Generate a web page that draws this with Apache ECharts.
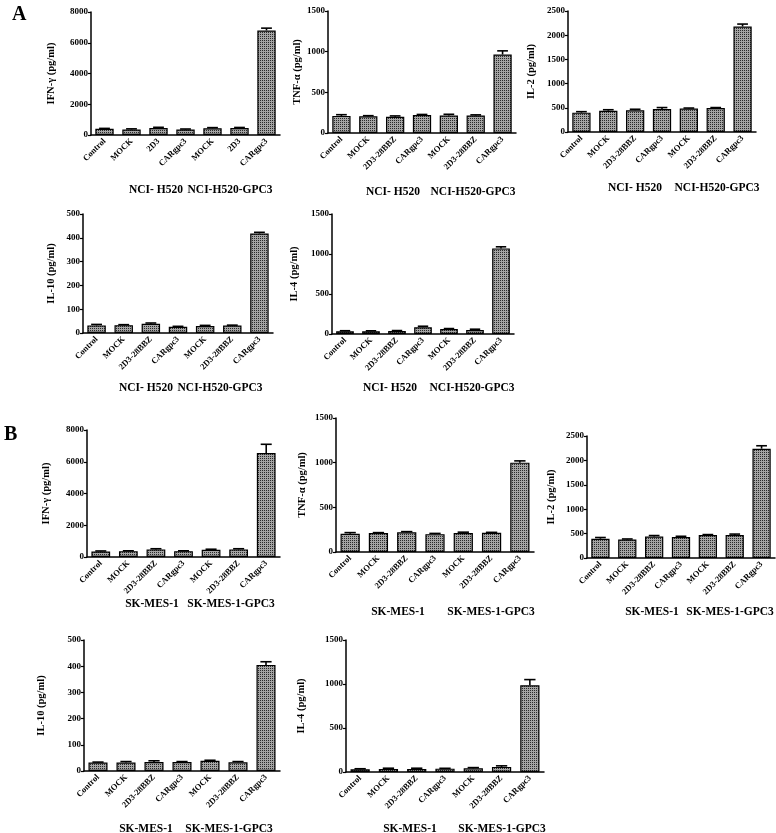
<!DOCTYPE html>
<html>
<head>
<meta charset="utf-8">
<script src="https://cdn.jsdelivr.net/npm/echarts@6/dist/echarts.min.js"></script>
<style>
  html, body { margin: 0; padding: 0; background: #fff; }
  #chart { width: 776px; height: 833px; }
</style>
</head>
<body>
<div id="chart"></div>
<script>
// 类别
const catsShort = ['Control', 'MOCK', '2D3', 'CARgpc3', 'MOCK', '2D3', 'CARgpc3'];
const catsFull = ['Control', 'MOCK', '2D3-28BBZ', 'CARgpc3', 'MOCK', '2D3-28BBZ', 'CARgpc3'];
const groupsA = ['NCI- H520', 'NCI-H520-GPC3'];
const groupsB = ['SK-MES-1', 'SK-MES-1-GPC3'];

// A: NCI-H520
const ifnA = [400, 360, 460, 360, 440, 460, 6800];
const ifnAErr = [30, 40, 40, 30, 40, 30, 150];
const tnfA = [210, 205, 200, 220, 215, 215, 965];
const tnfAErr = [15, 8, 10, 8, 15, 8, 45];
const il2A = [400, 440, 450, 475, 485, 495, 2180];
const il2AErr = [20, 20, 20, 30, 10, 10, 50];
const il10A = [32, 33, 39, 26, 29, 31, 418];
const il10AErr = [4, 2, 3, 2, 3, 2, 5];
const il4A = [35, 35, 38, 85, 62, 50, 1070];
const il4AErr = [6, 5, 5, 12, 6, 10, 20];

// B: SK-MES-1
const ifnB = [350, 370, 480, 370, 460, 480, 6550];
const ifnBErr = [30, 20, 40, 20, 30, 40, 550];
const tnfB = [205, 212, 220, 200, 212, 215, 1000];
const tnfBErr = [12, 5, 8, 8, 10, 5, 20];
const il2B = [395, 380, 440, 430, 470, 470, 2240];
const il2BErr = [25, 10, 20, 15, 10, 20, 60];
const il10B = [32, 32, 34, 34, 39, 33, 405];
const il10BErr = [2, 4, 5, 2, 2, 3, 12];
const il4B = [32, 35, 35, 38, 42, 58, 985];
const il4BErr = [5, 8, 8, 4, 8, 12, 65];

// 面板布局
const panels = [
  { grid: { left: 91, top: 12, width: 189, height: 123 }, cats: catsShort, vals: ifnA, errs: ifnAErr, max: 8000, step: 2000, name: 'IFN-γ (pg/ml)', gap: 34, groups: groupsA, gx: [156, 230], gy: 190 },
  { grid: { left: 328, top: 11, width: 188, height: 122 }, cats: catsFull, vals: tnfA, errs: tnfAErr, max: 1500, step: 500, name: 'TNF-α (pg/ml)', gap: 21, groups: groupsA, gx: [393, 473], gy: 192 },
  { grid: { left: 568, top: 11, width: 188, height: 121 }, cats: catsFull, vals: il2A, errs: il2AErr, max: 2500, step: 500, name: 'IL-2 (pg/ml)', gap: 31, groups: groupsA, gx: [635, 717], gy: 188 },
  { grid: { left: 83, top: 214, width: 190, height: 119 }, cats: catsFull, vals: il10A, errs: il10AErr, max: 500, step: 100, name: 'IL-10 (pg/ml)', gap: 26, groups: groupsA, gx: [146, 220], gy: 388 },
  { grid: { left: 332, top: 214, width: 182, height: 120 }, cats: catsFull, vals: il4A, errs: il4AErr, max: 1500, step: 500, name: 'IL-4 (pg/ml)', gap: 32, groups: groupsA, gx: [390, 472], gy: 388 },
  { grid: { left: 87, top: 430, width: 193, height: 127 }, cats: catsFull, vals: ifnB, errs: ifnBErr, max: 8000, step: 2000, name: 'IFN-γ (pg/ml)', gap: 35, groups: groupsB, gx: [152, 231], gy: 604 },
  { grid: { left: 336, top: 418, width: 198, height: 134 }, cats: catsFull, vals: tnfB, errs: tnfBErr, max: 1500, step: 500, name: 'TNF-α (pg/ml)', gap: 28, groups: groupsB, gx: [398, 491], gy: 612 },
  { grid: { left: 587, top: 436, width: 188, height: 122 }, cats: catsFull, vals: il2B, errs: il2BErr, max: 2500, step: 500, name: 'IL-2 (pg/ml)', gap: 30, groups: groupsB, gx: [652, 730], gy: 612 },
  { grid: { left: 84, top: 640, width: 196, height: 131 }, cats: catsFull, vals: il10B, errs: il10BErr, max: 500, step: 100, name: 'IL-10 (pg/ml)', gap: 37, groups: groupsB, gx: [146, 229], gy: 829 },
  { grid: { left: 346, top: 640, width: 198, height: 132 }, cats: catsFull, vals: il4B, errs: il4BErr, max: 1500, step: 500, name: 'IL-4 (pg/ml)', gap: 39, groups: groupsB, gx: [410, 502], gy: 829 }
];

const FONT = '"Liberation Serif", "Times New Roman", serif';

// 网点填充
const pat = document.createElement('canvas');
pat.width = 2;
pat.height = 2;
const pctx = pat.getContext('2d');
pctx.fillStyle = '#a4a4a4';
pctx.fillRect(0, 0, 2, 2);
pctx.fillStyle = '#2a2a2a';
pctx.fillRect(0, 0, 1, 1);

function errorBar(params, api) {
  const v = api.value(1);
  const e = api.value(2);
  const p0 = api.coord([api.value(0), v]);
  const p1 = api.coord([api.value(0), v + e]);
  const hw = api.size([1, 0])[0] * 0.2;
  const st = { stroke: '#000', lineWidth: 1.6 };
  return {
    type: 'group',
    children: [
      { type: 'line', shape: { x1: p0[0], y1: p0[1], x2: p1[0], y2: p1[1] }, style: st },
      { type: 'line', shape: { x1: p1[0] - hw, y1: p1[1], x2: p1[0] + hw, y2: p1[1] }, style: st }
    ]
  };
}

const grid = [], xAxis = [], yAxis = [], series = [], graphic = [];
panels.forEach((p, i) => {
  grid.push(p.grid);
  xAxis.push({
    type: 'category', gridIndex: i, data: p.cats,
    axisLine: { lineStyle: { color: '#000', width: 1.5 } },
    axisTick: { alignWithLabel: true, length: 3, lineStyle: { color: '#000', width: 1.2 } },
    axisLabel: { rotate: 45, interval: 0, margin: 5, color: '#000', fontFamily: FONT, fontWeight: 'bold', fontSize: 8.5 }
  });
  yAxis.push({
    type: 'value', gridIndex: i, min: 0, max: p.max, interval: p.step,
    name: p.name, nameLocation: 'middle', nameRotate: 90, nameGap: p.gap,
    nameTextStyle: { color: '#000', fontFamily: FONT, fontWeight: 'bold', fontSize: 10.5 },
    axisLine: { show: true, lineStyle: { color: '#000', width: 1.5 } },
    axisTick: { show: true, length: 3, lineStyle: { color: '#000', width: 1.2 } },
    axisLabel: { margin: 3, color: '#000', fontFamily: FONT, fontWeight: 'bold', fontSize: 9, formatter: (v) => String(v) },
    splitLine: { show: false }
  });
  series.push({
    type: 'bar', xAxisIndex: i, yAxisIndex: i, data: p.vals, barWidth: '68%',
    itemStyle: { color: { image: pat, repeat: 'repeat' }, borderColor: '#000', borderWidth: 1.2 }
  });
  series.push({
    type: 'custom', xAxisIndex: i, yAxisIndex: i,
    data: p.vals.map((v, k) => [k, v, p.errs[k]]),
    renderItem: errorBar, z: 3
  });
  p.groups.forEach((g, k) => {
    graphic.push({
      type: 'text', x: p.gx[k], y: p.gy,
      style: { text: g, fill: '#000', font: 'bold 11.5px ' + FONT, textAlign: 'center', textVerticalAlign: 'middle' }
    });
  });
});

graphic.push({ type: 'text', x: 12, y: 5, style: { text: 'A', fill: '#000', font: 'bold 20px ' + FONT } });
graphic.push({ type: 'text', x: 4, y: 425, style: { text: 'B', fill: '#000', font: 'bold 20px ' + FONT } });

const chart = echarts.init(document.getElementById('chart'));
chart.setOption({
  animation: false,
  backgroundColor: '#fff',
  grid, xAxis, yAxis, series, graphic
});
</script>
</body>
</html>
